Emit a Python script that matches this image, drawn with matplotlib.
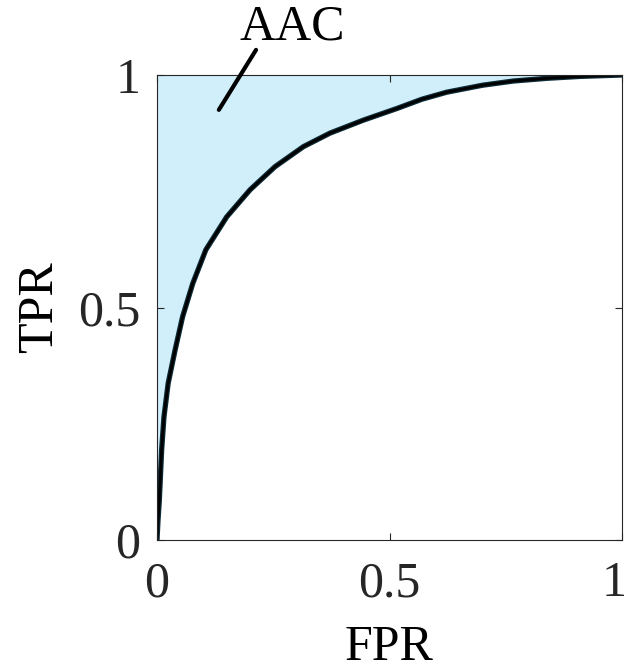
import matplotlib
matplotlib.use("Agg")
import matplotlib.pyplot as plt
import matplotlib.transforms as mtrans

fpr = [0.0, 0.002, 0.005, 0.010, 0.015, 0.024, 0.039, 0.055, 0.077, 0.105, 0.150, 0.200, 0.254, 0.315, 0.372, 0.444, 0.516, 0.570, 0.623, 0.700, 0.766, 0.840, 0.910, 1.0]
tpr = [0.0, 0.04, 0.086, 0.194, 0.265, 0.337, 0.409, 0.480, 0.552, 0.624, 0.695, 0.753, 0.803, 0.846, 0.875, 0.903, 0.928, 0.948, 0.963, 0.978, 0.987, 0.993, 0.997, 1.0]
ticks = [0, 0.5, 1]
xtick_labels = ["0", "0.5", "1"]
ytick_labels = ["0", "0.5", "1"]

plt.rcParams['font.family'] = ['Liberation Serif', 'DejaVu Serif']
fig = plt.figure(figsize=(6.28, 6.72), dpi=100)
ax = fig.add_axes([157/628, 1-540/672, 465/628, 465/672])
ax.fill_between(fpr, tpr, 1, color='#d0effb', linewidth=0)
ax.plot(fpr, tpr, color='#0b2a36', lw=3.8, solid_capstyle='butt', solid_joinstyle='round')
ax.plot(fpr, tpr, color='black', lw=2.0, solid_capstyle='butt', solid_joinstyle='round')
ax.set_xlim(0, 1)
ax.set_ylim(0, 1)
ax.set_xticks(ticks)
ax.set_xticklabels(xtick_labels)
ax.set_yticks(ticks)
ax.set_yticklabels(ytick_labels)
ax.tick_params(direction='in', length=5, width=0.8, labelsize=36, colors='#262626')
ax.tick_params(axis='x', pad=15)
ax.tick_params(axis='y', pad=12)
ax.tick_params(top=True, right=True)
for s in ax.spines.values():
    s.set_color('#262626')
    s.set_linewidth(0.8)
# nudge the last x tick label slightly left so it stays inside the canvas
lbl = ax.get_xticklabels()[-1]
lbl.set_transform(lbl.get_transform() + mtrans.ScaledTranslation(-8/100, 0, fig.dpi_scale_trans))
ax.set_xlabel('FPR', fontsize=36, labelpad=12)
ax.set_ylabel('TPR', fontsize=36, labelpad=11)
ax.annotate('', xy=(0.133, 0.925), xytext=(0.213, 1.054), textcoords='data',
            annotation_clip=False,
            arrowprops=dict(arrowstyle='-', color='black', lw=3, shrinkA=0, shrinkB=0))
ax.text(0.29, 1.103, 'AAC', fontsize=36, ha='center', va='center', color='black')
fig.savefig('out.png', dpi=100)
